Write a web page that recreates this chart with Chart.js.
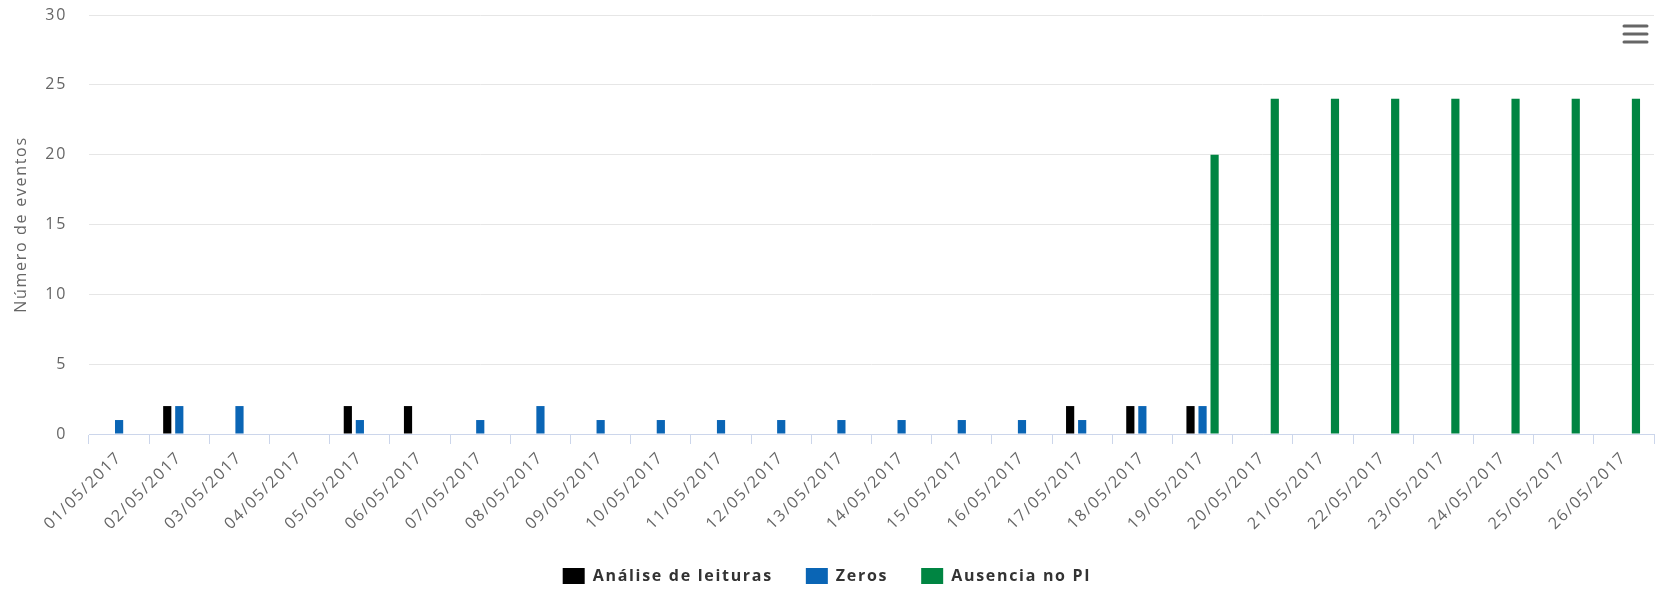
<!DOCTYPE html>
<html lang="pt">
<head>
    <meta charset="UTF-8">
    <title>Número de eventos</title>
    <script src="https://cdn.jsdelivr.net/npm/chart.js@4.4.1/dist/chart.umd.min.js"></script>
    <style>
        html, body { margin: 0; padding: 0; background: #fff; }
        #wrap { width: 1659px; height: 589px; }
    </style>
</head>
<body>
    <div id="wrap"><canvas id="eventsChart" width="1659" height="589"></canvas></div>
    <script>
        const dias = [
            "01/05/2017", "02/05/2017", "03/05/2017", "04/05/2017", "05/05/2017", "06/05/2017",
            "07/05/2017", "08/05/2017", "09/05/2017", "10/05/2017", "11/05/2017", "12/05/2017",
            "13/05/2017", "14/05/2017", "15/05/2017", "16/05/2017", "17/05/2017", "18/05/2017",
            "19/05/2017", "20/05/2017", "21/05/2017", "22/05/2017", "23/05/2017", "24/05/2017",
            "25/05/2017", "26/05/2017"
        ];
        const analiseLeituras = [0, 2, 0, 0, 2, 2, 0, 0, 0, 0, 0, 0, 0, 0, 0, 0, 2, 2, 2, 0, 0, 0, 0, 0, 0, 0];
        const zeros           = [1, 2, 2, 0, 1, 0, 1, 2, 1, 1, 1, 1, 1, 1, 1, 1, 1, 2, 2, 0, 0, 0, 0, 0, 0, 0];
        const ausenciaPI      = [0, 0, 0, 0, 0, 0, 0, 0, 0, 0, 0, 0, 0, 0, 0, 0, 0, 0, 20, 24, 24, 24, 24, 24, 24, 24];
        const yMax = 30;
        const yStep = 5;

        // the reference text is drawn quite wide, so space the letters a bit
        const spacing = {
            id: 'spacing',
            beforeUpdate(chart) { chart.ctx.letterSpacing = '1.7px'; },
            beforeDraw(chart) { chart.ctx.letterSpacing = '1.7px'; }
        };

        // export menu icon, top right
        const menuIcon = {
            id: 'menuIcon',
            afterDraw(chart) {
                const ctx = chart.ctx;
                ctx.save();
                ctx.strokeStyle = '#666666';
                ctx.lineWidth = 3;
                ctx.lineCap = 'round';
                [26, 34, 42].forEach(y => {
                    ctx.beginPath();
                    ctx.moveTo(1624, y);
                    ctx.lineTo(1647, y);
                    ctx.stroke();
                });
                ctx.restore();
            }
        };

        const axisFont = { family: "'Open Sans', sans-serif", size: 16 };

        new Chart(document.getElementById('eventsChart'), {
            type: 'bar',
            data: {
                labels: dias,
                datasets: [
                    { label: 'Análise de leituras', data: analiseLeituras, backgroundColor: '#000000' },
                    { label: 'Zeros', data: zeros, backgroundColor: '#0a65b5' },
                    { label: 'Ausencia no PI', data: ausenciaPI, backgroundColor: '#008542' }
                ]
            },
            options: {
                responsive: false,
                animation: false,
                categoryPercentage: 0.6,
                barPercentage: 0.68,
                layout: { padding: { top: 15, right: 5, bottom: -5, left: 0 } },
                plugins: {
                    tooltip: { enabled: false },
                    legend: {
                        position: 'bottom',
                        labels: {
                            color: '#333333',
                            font: { family: "'Open Sans', sans-serif", size: 16, weight: 'bold' },
                            boxWidth: 22,
                            boxHeight: 16,
                            padding: 33
                        }
                    }
                },
                scales: {
                    x: {
                        grid: {
                            offset: true,
                            drawOnChartArea: false,
                            drawTicks: true,
                            tickLength: 10,
                            color: '#ccd6eb'
                        },
                        border: { color: '#ccd6eb', width: 1 },
                        ticks: {
                            color: '#666666',
                            font: axisFont,
                            autoSkip: false,
                            minRotation: 45,
                            maxRotation: 45,
                            padding: 4
                        },
                        afterFit(scale) { scale.height = 101; }
                    },
                    y: {
                        min: 0,
                        max: yMax,
                        grid: { color: '#e6e6e6', drawTicks: false },
                        border: { display: false },
                        ticks: {
                            stepSize: yStep,
                            color: '#666666',
                            font: axisFont,
                            padding: 22
                        },
                        title: {
                            display: true,
                            text: 'Número de eventos',
                            color: '#666666',
                            font: { family: "'Open Sans', sans-serif", size: 16 },
                            padding: { top: 12, bottom: 0 }
                        },
                        afterFit(scale) {
                            scale.width = 89;
                            // tick padding is only meant to push labels left, not down from the top
                            scale.paddingTop = 9;
                            scale.paddingBottom = 9;
                        }
                    }
                }
            },
            plugins: [spacing, menuIcon]
        });
    </script>
</body>
</html>
